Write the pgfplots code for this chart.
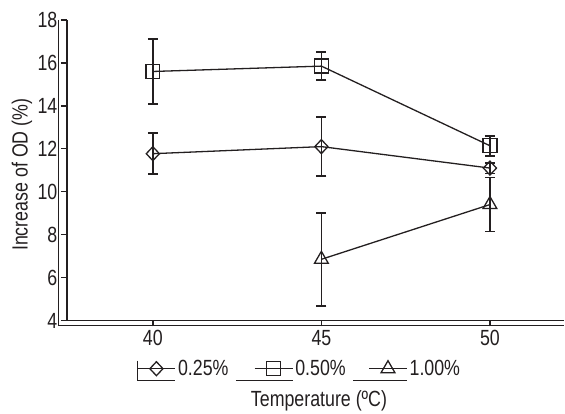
\documentclass[border=0pt]{standalone}
\usepackage{fontspec}
\setmainfont[FakeStretch=0.81]{Liberation Sans}
\usepackage{pgfplots}
\pgfplotsset{compat=1.18}
\usetikzlibrary{calc}
\definecolor{ink}{HTML}{231F20}
\newcommand\fs{\fontsize{22}{26}\selectfont}
\pgfplotsset{
  legA/.style={legend image code/.code={
    \path[draw=none, fill=none] (0pt,-15pt) (0pt,8pt);
    \draw[ink, line width=0.6pt, solid] (0pt,8pt) -- (0pt,-12pt) -- (38pt,-12pt);
    \draw[mark repeat=2, mark phase=2, ##1] plot coordinates {(0pt,0pt) (19pt,0pt) (38pt,0pt)};
  }},
  legB/.style={legend image code/.code={
    \path[draw=none, fill=none] (0pt,-15pt) (0pt,8pt);
    \draw[ink, line width=0.6pt, solid] (-19pt,-12pt) -- (38pt,-12pt);
    \draw[mark repeat=2, mark phase=2, ##1] plot coordinates {(0pt,0pt) (19pt,0pt) (38pt,0pt)};
  }},
  legC/.style={legend image code/.code={
    \path[draw=none, fill=none] (0pt,-15pt) (0pt,8pt);
    \draw[ink, line width=0.6pt, solid] (-16pt,-12pt) -- (38pt,-12pt);
    \draw[mark repeat=2, mark phase=2, ##1] plot coordinates {(0pt,0pt) (19pt,0pt) (38pt,0pt)};
  }},
}

\begin{document}
\begin{tikzpicture}
\begin{axis}[name=ax, scale only axis, width=498pt, height=301pt,
  xmin=37.45, xmax=52.2, ymin=4, ymax=18,
  xtick={40,45,50}, ytick={4,6,...,18},
  axis lines*=left, axis line style={ink, line width=1.8pt},
  tick align=outside, major tick length=6pt,
  tick style={ink, line width=1.4pt},
  every tick label/.append style={font=\fs, text=ink},
  /pgf/number format/assume math mode=true,
  xlabel={Temperature (ºC)}, ylabel={Increase of OD (\%)},
  label style={font=\fs, text=ink},
  xlabel style={at={(axis description cs:0.507,-0.266)}, anchor=center},
  ylabel style={at={(axis description cs:-0.0904,0.485)}, anchor=center},
  legend columns=3,
  legend cell align=left,
  legend style={at={(axis description cs:0.1406,-0.168)}, anchor=west,
    draw=none, fill=none, font=\fs, text=ink, inner sep=0pt, outer sep=0pt,
    nodes={inner sep=2pt},
    /tikz/every even column/.append style={column sep=5pt}},
  clip=false,
  error bars/y dir=both, error bars/y explicit,
  error bars/error bar style={ink, line width=1.7pt},
  error bars/error mark options={rotate=90, mark size=5pt, line width=1.7pt, ink},
]
\addplot[ink, line width=1.3pt, mark=diamond, mark size=7pt,
  mark options={solid, line width=1.3pt, fill=none, xscale=1.25}, legA]
  table[x=x, y=y, y error=e] {
x y e
40 11.77 0.95
45 12.10 1.37
50 11.10 0.25
};
\addlegendentry{0.25\%}
\addplot[ink, line width=1.3pt, mark=square, mark size=7pt,
  mark options={solid, line width=1.3pt, fill=none}, legB]
  table[x=x, y=y, y error=e] {
x y e
40 15.60 1.50
45 15.85 0.65
50 12.14 0.47
};
\addlegendentry{0.50\%}
\addplot[ink, line width=1.3pt, mark=triangle, mark size=8pt,
  mark options={solid, line width=1.3pt, fill=none}, legC]
  table[x=x, y=y, y error=e] {
x y e
45 6.85 2.16
50 9.40 1.26
};
\addlegendentry{1.00\%}
\end{axis}
\draw[ink, line width=0.6pt] ($(ax.north west)+(-9pt,0)$) -- ($(ax.south west)+(-9pt,-4.5pt)$) -- ($(ax.south east)+(0,-4.5pt)$);
\path[use as bounding box] ($(ax.south west)+(-67pt,-91pt)$) rectangle ($(ax.south west)+(498pt,321pt)$);
\end{tikzpicture}
\end{document}
